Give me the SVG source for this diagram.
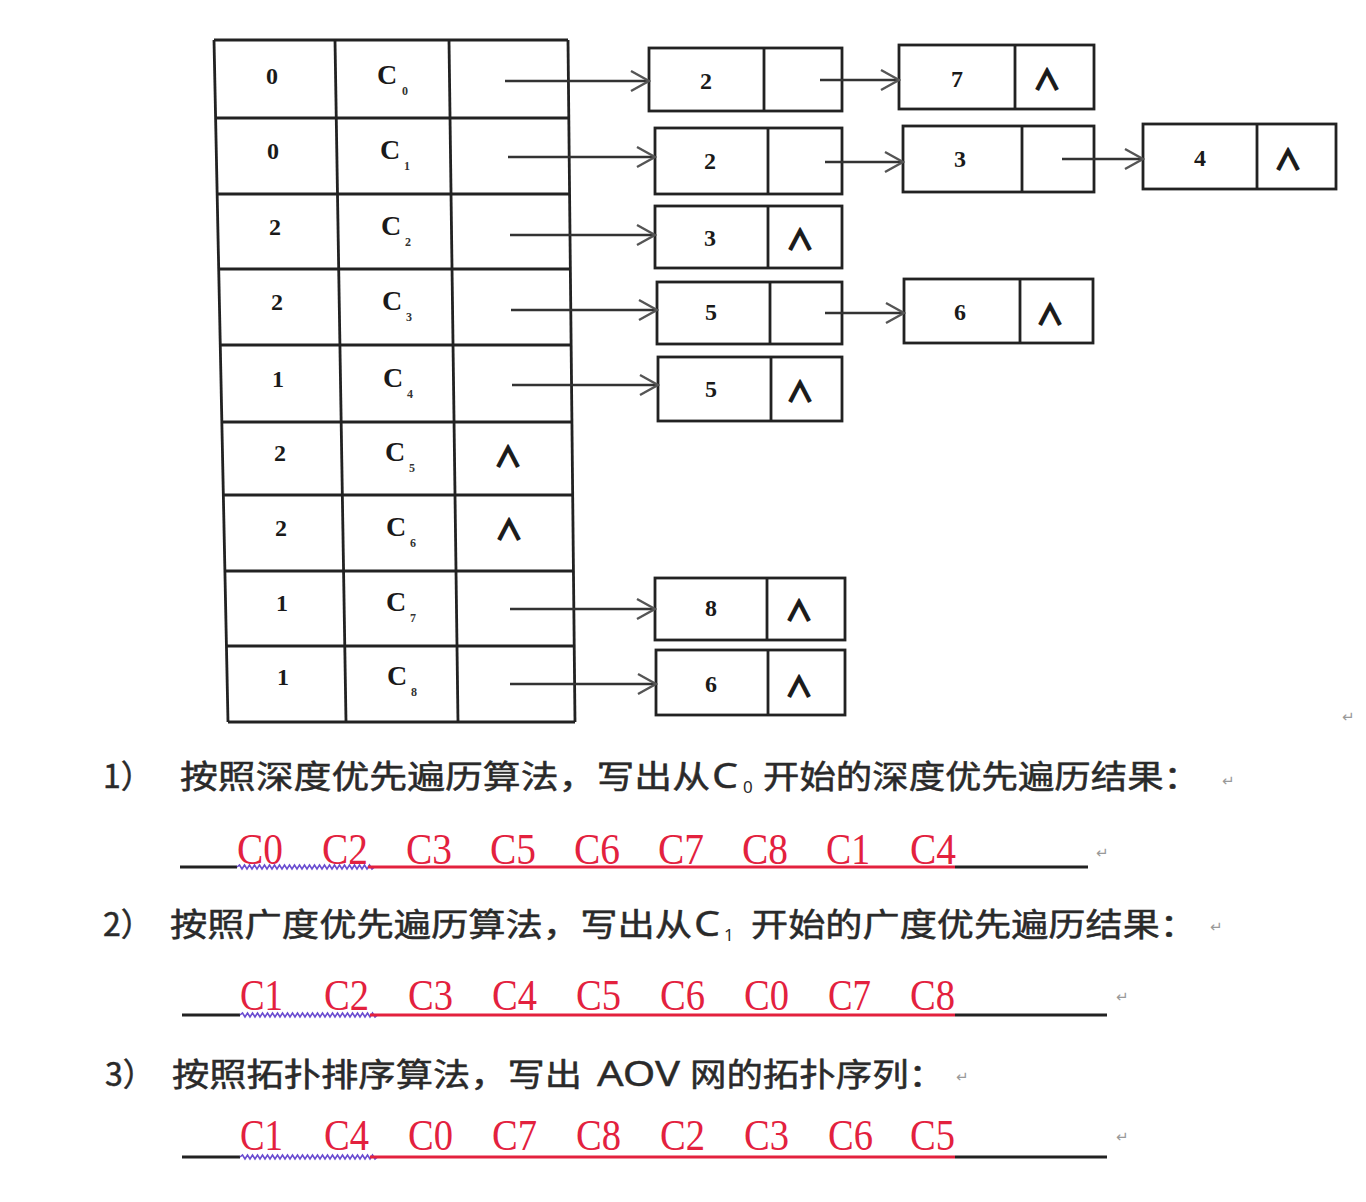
<svg xmlns="http://www.w3.org/2000/svg" width="1366" height="1202" viewBox="0 0 1366 1202">
<defs>
<marker id="arr" markerUnits="userSpaceOnUse" markerWidth="24" markerHeight="24" viewBox="0 0 24 24" refX="22" refY="12" orient="auto">
<path d="M4,2 L22,12 L4,22" fill="none" stroke="#555" stroke-width="2.4" stroke-linejoin="miter"/>
</marker>
</defs>
<style>
.ln{stroke:#222;stroke-width:2.8;fill:none}
.bx{stroke:#222;stroke-width:2.8;fill:#fff}
.cn{stroke:#333;stroke-width:2.4;fill:none}
.num{font-family:"Liberation Serif",serif;font-weight:bold;font-size:24px;fill:#1a1a1a;text-anchor:middle}
.cc{font-family:"Liberation Serif",serif;font-weight:bold;font-size:28px;fill:#1a1a1a}
.sub{font-family:"Liberation Serif",serif;font-weight:bold;font-size:12px;fill:#333}
.nil{font-family:"Noto Sans CJK SC","DejaVu Sans",sans-serif;font-weight:bold;font-size:28px;fill:#1a1a1a;stroke:#1a1a1a;stroke-width:1.3;text-anchor:middle}
.zh{font-family:"Noto Sans CJK SC","Noto Sans",sans-serif;font-size:32px;fill:#2a2a2a;stroke:#2a2a2a;stroke-width:0.5}
.lat{font-family:"Noto Sans","Noto Sans CJK SC",sans-serif;font-size:34px;fill:#2a2a2a;stroke:#2a2a2a;stroke-width:0.4}
.zs{font-family:"Noto Sans",sans-serif;font-size:17px;fill:#2a2a2a}
.ans{font-family:"Liberation Serif",serif;font-size:44px;fill:#e3213e}
.pm{font-family:"DejaVu Sans",sans-serif;font-size:15px;fill:#999}
.ulk{stroke:#222;stroke-width:3;fill:none}
.ulr{stroke:#e3213e;stroke-width:3;fill:none}
.ulp{stroke:#6a4cd0;stroke-width:1.6;fill:none}
</style>

<g id="table">
<line class="ln" x1="214" y1="40" x2="228" y2="722"/>
<line class="ln" x1="335" y1="40" x2="346" y2="722"/>
<line class="ln" x1="449" y1="40" x2="458" y2="722"/>
<line class="ln" x1="568" y1="40" x2="575" y2="722"/>
<line class="ln" x1="214" y1="40" x2="568" y2="40"/>
<line class="ln" x1="215.6" y1="118" x2="568.8" y2="118"/>
<line class="ln" x1="217.2" y1="194" x2="569.6" y2="194"/>
<line class="ln" x1="218.7" y1="269" x2="570.4" y2="269"/>
<line class="ln" x1="220.3" y1="345" x2="571.1" y2="345"/>
<line class="ln" x1="221.8" y1="422" x2="571.9" y2="422"/>
<line class="ln" x1="223.3" y1="495" x2="572.7" y2="495"/>
<line class="ln" x1="224.9" y1="571" x2="573.4" y2="571"/>
<line class="ln" x1="226.4" y1="646" x2="574.2" y2="646"/>
<line class="ln" x1="228" y1="722" x2="575" y2="722"/>
</g>

<g id="row0"><text class="num" x="272" y="84">0</text><text class="cc" x="377" y="84">C</text><text class="sub" x="402" y="95">0</text></g>
<g id="row1"><text class="num" x="273" y="159">0</text><text class="cc" x="380" y="159">C</text><text class="sub" x="404" y="170">1</text></g>
<g id="row2"><text class="num" x="275" y="235">2</text><text class="cc" x="381" y="235">C</text><text class="sub" x="405" y="246">2</text></g>
<g id="row3"><text class="num" x="277" y="310">2</text><text class="cc" x="382" y="310">C</text><text class="sub" x="406" y="321">3</text></g>
<g id="row4"><text class="num" x="278" y="387">1</text><text class="cc" x="383" y="387">C</text><text class="sub" x="407" y="398">4</text></g>
<g id="row5"><text class="num" x="280" y="461">2</text><text class="cc" x="385" y="461">C</text><text class="sub" x="409" y="472">5</text><text class="nil" x="508" y="467">∧</text></g>
<g id="row6"><text class="num" x="281" y="536">2</text><text class="cc" x="386" y="536">C</text><text class="sub" x="410" y="547">6</text><text class="nil" x="509" y="540">∧</text></g>
<g id="row7"><text class="num" x="282" y="611">1</text><text class="cc" x="386" y="611">C</text><text class="sub" x="410" y="622">7</text></g>
<g id="row8"><text class="num" x="283" y="685">1</text><text class="cc" x="387" y="685">C</text><text class="sub" x="411" y="696">8</text></g>

<g id="n0a"><rect class="bx" x="649" y="48" width="193" height="63"/><line class="ln" x1="764" y1="48" x2="764" y2="111"/><text class="num" x="706" y="89">2</text></g>
<g id="n0b"><rect class="bx" x="899" y="45" width="195" height="64"/><line class="ln" x1="1015" y1="45" x2="1015" y2="109"/><text class="num" x="957" y="87">7</text><text class="nil" x="1047" y="90">∧</text></g>
<g id="n1a"><rect class="bx" x="655" y="128" width="187" height="66"/><line class="ln" x1="768" y1="128" x2="768" y2="194"/><text class="num" x="710" y="169">2</text></g>
<g id="n1b"><rect class="bx" x="903" y="126" width="191" height="66"/><line class="ln" x1="1022" y1="126" x2="1022" y2="192"/><text class="num" x="960" y="167">3</text></g>
<g id="n1c"><rect class="bx" x="1143" y="124" width="193" height="65"/><line class="ln" x1="1257" y1="124" x2="1257" y2="189"/><text class="num" x="1200" y="166">4</text><text class="nil" x="1288" y="170">∧</text></g>
<g id="n2a"><rect class="bx" x="655" y="206" width="187" height="62"/><line class="ln" x1="768" y1="206" x2="768" y2="268"/><text class="num" x="710" y="246">3</text><text class="nil" x="800" y="250">∧</text></g>
<g id="n3a"><rect class="bx" x="657" y="282" width="185" height="62"/><line class="ln" x1="770" y1="282" x2="770" y2="344"/><text class="num" x="711" y="320">5</text></g>
<g id="n3b"><rect class="bx" x="904" y="279" width="189" height="64"/><line class="ln" x1="1020" y1="279" x2="1020" y2="343"/><text class="num" x="960" y="320">6</text><text class="nil" x="1050" y="325">∧</text></g>
<g id="n4a"><rect class="bx" x="658" y="357" width="184" height="64"/><line class="ln" x1="771" y1="357" x2="771" y2="421"/><text class="num" x="711" y="397">5</text><text class="nil" x="800" y="402">∧</text></g>
<g id="n7a"><rect class="bx" x="655" y="578" width="190" height="62"/><line class="ln" x1="767" y1="578" x2="767" y2="640"/><text class="num" x="711" y="616">8</text><text class="nil" x="799" y="621">∧</text></g>
<g id="n8a"><rect class="bx" x="656" y="650" width="189" height="65"/><line class="ln" x1="768" y1="650" x2="768" y2="715"/><text class="num" x="711" y="692">6</text><text class="nil" x="799" y="697">∧</text></g>

<g id="connectors">
<line class="cn" x1="505" y1="81" x2="649" y2="81" marker-end="url(#arr)"/>
<line class="cn" x1="820" y1="80" x2="899" y2="80" marker-end="url(#arr)"/>
<line class="cn" x1="508" y1="157" x2="655" y2="157" marker-end="url(#arr)"/>
<line class="cn" x1="825" y1="162" x2="903" y2="162" marker-end="url(#arr)"/>
<line class="cn" x1="1062" y1="159" x2="1143" y2="159" marker-end="url(#arr)"/>
<line class="cn" x1="510" y1="235" x2="655" y2="235" marker-end="url(#arr)"/>
<line class="cn" x1="511" y1="310" x2="657" y2="310" marker-end="url(#arr)"/>
<line class="cn" x1="825" y1="313" x2="904" y2="313" marker-end="url(#arr)"/>
<line class="cn" x1="512" y1="385" x2="658" y2="385" marker-end="url(#arr)"/>
<line class="cn" x1="510" y1="609" x2="655" y2="609" marker-end="url(#arr)"/>
<line class="cn" x1="510" y1="684" x2="656" y2="684" marker-end="url(#arr)"/>
</g>

<g id="q1">
<text class="zh" x="103" y="788">1）</text>
<text class="zh" x="180" y="788" textLength="530" lengthAdjust="spacingAndGlyphs">按照深度优先遍历算法，写出从</text>
<text class="lat" x="712" y="788" textLength="26" lengthAdjust="spacingAndGlyphs">C</text><text class="zs" x="743" y="793">0</text>
<text class="zh" x="763" y="788" textLength="437" lengthAdjust="spacingAndGlyphs">开始的深度优先遍历结果：</text>
<text class="pm" x="1222" y="786">↵</text>
</g>
<g id="a1">
<text class="ans" x="237" y="864" textLength="46" lengthAdjust="spacingAndGlyphs">C0</text>
<text class="ans" x="322" y="864" textLength="46" lengthAdjust="spacingAndGlyphs">C2</text>
<text class="ans" x="406" y="864" textLength="46" lengthAdjust="spacingAndGlyphs">C3</text>
<text class="ans" x="490" y="864" textLength="46" lengthAdjust="spacingAndGlyphs">C5</text>
<text class="ans" x="574" y="864" textLength="46" lengthAdjust="spacingAndGlyphs">C6</text>
<text class="ans" x="658" y="864" textLength="46" lengthAdjust="spacingAndGlyphs">C7</text>
<text class="ans" x="742" y="864" textLength="46" lengthAdjust="spacingAndGlyphs">C8</text>
<text class="ans" x="826" y="864" textLength="44" lengthAdjust="spacingAndGlyphs">C1</text>
<text class="ans" x="910" y="864" textLength="46" lengthAdjust="spacingAndGlyphs">C4</text>
<line class="ulk" x1="180" y1="867" x2="237" y2="867"/>
<path class="ulp" d="M237,867 l2.5,-2 l2.5,4 l2.5,-4 l2.5,4 l2.5,-4 l2.5,4 l2.5,-4 l2.5,4 l2.5,-4 l2.5,4 l2.5,-4 l2.5,4 l2.5,-4 l2.5,4 l2.5,-4 l2.5,4 l2.5,-4 l2.5,4 l2.5,-4 l2.5,4 l2.5,-4 l2.5,4 l2.5,-4 l2.5,4 l2.5,-4 l2.5,4 l2.5,-4 l2.5,4 l2.5,-4 l2.5,4 l2.5,-4 l2.5,4 l2.5,-4 l2.5,4 l2.5,-4 l2.5,4 l2.5,-4 l2.5,4 l2.5,-4 l2.5,4 l2.5,-4 l2.5,4 l2.5,-4 l2.5,4 l2.5,-4 l2.5,4 l2.5,-4 l2.5,4 l2.5,-4 l2.5,4 l2.5,-4 l2.5,4 l2.5,-4 l2.5,4 l2.5,-2"/>
<line class="ulr" x1="368" y1="867" x2="955" y2="867"/>
<line class="ulk" x1="955" y1="867" x2="1088" y2="867"/>
<text class="pm" x="1096" y="858">↵</text>
</g>

<g id="q2">
<text class="zh" x="103" y="936">2）</text>
<text class="zh" x="170" y="936" textLength="522" lengthAdjust="spacingAndGlyphs">按照广度优先遍历算法，写出从</text>
<text class="lat" x="694" y="936" textLength="26" lengthAdjust="spacingAndGlyphs">C</text><text class="zs" x="724" y="941">1</text>
<text class="zh" x="751" y="936" textLength="446" lengthAdjust="spacingAndGlyphs">开始的广度优先遍历结果：</text>
<text class="pm" x="1210" y="932">↵</text>
</g>
<g id="a2">
<text class="ans" x="240" y="1010" textLength="43" lengthAdjust="spacingAndGlyphs">C1</text>
<text class="ans" x="324" y="1010" textLength="45" lengthAdjust="spacingAndGlyphs">C2</text>
<text class="ans" x="408" y="1010" textLength="45" lengthAdjust="spacingAndGlyphs">C3</text>
<text class="ans" x="492" y="1010" textLength="45" lengthAdjust="spacingAndGlyphs">C4</text>
<text class="ans" x="576" y="1010" textLength="45" lengthAdjust="spacingAndGlyphs">C5</text>
<text class="ans" x="660" y="1010" textLength="45" lengthAdjust="spacingAndGlyphs">C6</text>
<text class="ans" x="744" y="1010" textLength="45" lengthAdjust="spacingAndGlyphs">C0</text>
<text class="ans" x="828" y="1010" textLength="43" lengthAdjust="spacingAndGlyphs">C7</text>
<text class="ans" x="910" y="1010" textLength="45" lengthAdjust="spacingAndGlyphs">C8</text>
<line class="ulk" x1="182" y1="1015" x2="240" y2="1015"/>
<path class="ulp" d="M240,1015 l2.5,-2 l2.5,4 l2.5,-4 l2.5,4 l2.5,-4 l2.5,4 l2.5,-4 l2.5,4 l2.5,-4 l2.5,4 l2.5,-4 l2.5,4 l2.5,-4 l2.5,4 l2.5,-4 l2.5,4 l2.5,-4 l2.5,4 l2.5,-4 l2.5,4 l2.5,-4 l2.5,4 l2.5,-4 l2.5,4 l2.5,-4 l2.5,4 l2.5,-4 l2.5,4 l2.5,-4 l2.5,4 l2.5,-4 l2.5,4 l2.5,-4 l2.5,4 l2.5,-4 l2.5,4 l2.5,-4 l2.5,4 l2.5,-4 l2.5,4 l2.5,-4 l2.5,4 l2.5,-4 l2.5,4 l2.5,-4 l2.5,4 l2.5,-4 l2.5,4 l2.5,-4 l2.5,4 l2.5,-4 l2.5,4 l2.5,-4 l2.5,4 l2.5,-2"/>
<line class="ulr" x1="370" y1="1015" x2="955" y2="1015"/>
<line class="ulk" x1="955" y1="1015" x2="1107" y2="1015"/>
<text class="pm" x="1116" y="1002">↵</text>
</g>

<g id="q3">
<text class="zh" x="105" y="1086">3）</text>
<text class="zh" x="172" y="1086" textLength="410" lengthAdjust="spacingAndGlyphs">按照拓扑排序算法，写出</text>
<text class="lat" x="597" y="1086" textLength="83" lengthAdjust="spacingAndGlyphs">AOV</text>
<text class="zh" x="690" y="1086" textLength="255" lengthAdjust="spacingAndGlyphs">网的拓扑序列：</text>
<text class="pm" x="956" y="1082">↵</text>
</g>
<g id="a3">
<text class="ans" x="240" y="1150" textLength="43" lengthAdjust="spacingAndGlyphs">C1</text>
<text class="ans" x="324" y="1150" textLength="45" lengthAdjust="spacingAndGlyphs">C4</text>
<text class="ans" x="408" y="1150" textLength="45" lengthAdjust="spacingAndGlyphs">C0</text>
<text class="ans" x="492" y="1150" textLength="45" lengthAdjust="spacingAndGlyphs">C7</text>
<text class="ans" x="576" y="1150" textLength="45" lengthAdjust="spacingAndGlyphs">C8</text>
<text class="ans" x="660" y="1150" textLength="45" lengthAdjust="spacingAndGlyphs">C2</text>
<text class="ans" x="744" y="1150" textLength="45" lengthAdjust="spacingAndGlyphs">C3</text>
<text class="ans" x="828" y="1150" textLength="45" lengthAdjust="spacingAndGlyphs">C6</text>
<text class="ans" x="910" y="1150" textLength="45" lengthAdjust="spacingAndGlyphs">C5</text>
<line class="ulk" x1="182" y1="1157" x2="240" y2="1157"/>
<path class="ulp" d="M240,1157 l2.5,-2 l2.5,4 l2.5,-4 l2.5,4 l2.5,-4 l2.5,4 l2.5,-4 l2.5,4 l2.5,-4 l2.5,4 l2.5,-4 l2.5,4 l2.5,-4 l2.5,4 l2.5,-4 l2.5,4 l2.5,-4 l2.5,4 l2.5,-4 l2.5,4 l2.5,-4 l2.5,4 l2.5,-4 l2.5,4 l2.5,-4 l2.5,4 l2.5,-4 l2.5,4 l2.5,-4 l2.5,4 l2.5,-4 l2.5,4 l2.5,-4 l2.5,4 l2.5,-4 l2.5,4 l2.5,-4 l2.5,4 l2.5,-4 l2.5,4 l2.5,-4 l2.5,4 l2.5,-4 l2.5,4 l2.5,-4 l2.5,4 l2.5,-4 l2.5,4 l2.5,-4 l2.5,4 l2.5,-4 l2.5,4 l2.5,-4 l2.5,4 l2.5,-2"/>
<line class="ulr" x1="370" y1="1157" x2="955" y2="1157"/>
<line class="ulk" x1="955" y1="1157" x2="1107" y2="1157"/>
<text class="pm" x="1116" y="1142">↵</text>
</g>
<text class="pm" x="1342" y="722">↵</text>
</svg>
